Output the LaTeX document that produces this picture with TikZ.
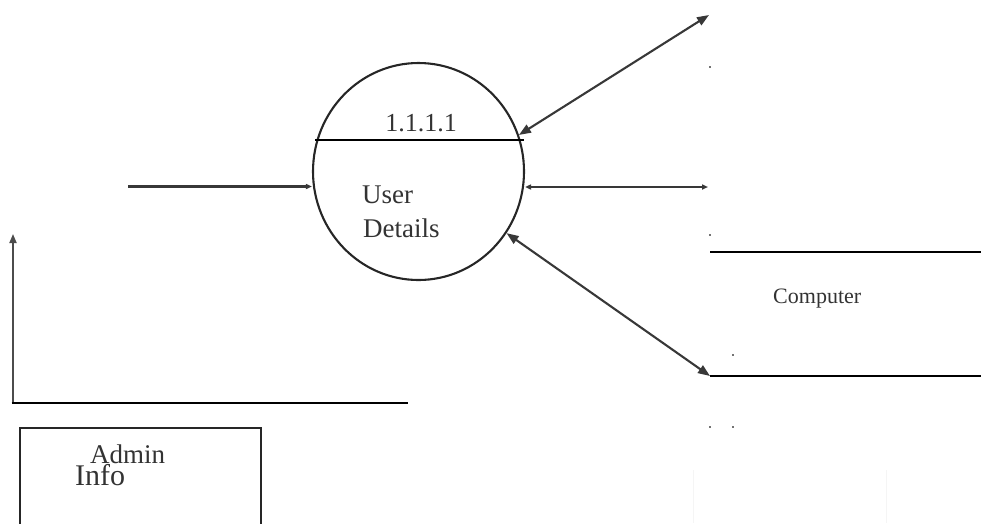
\documentclass[tikz,border=0pt]{standalone}
\usepackage{fontspec}
\setmainfont{Liberation Serif}
\usetikzlibrary{arrows.meta,shapes.geometric}
\tikzset{
  flow/.style={draw=black!78, line width=2.1pt},
  bigtips/.style={{Triangle[length=12pt,width=9pt]}-{Triangle[length=12pt,width=9pt]}},
  smalltips/.style={{Triangle[length=6pt,width=5pt]}-{Triangle[length=6pt,width=5pt]}},
  smalltip/.style={-{Triangle[length=6pt,width=5pt]}},
  storeline/.style={draw=black, line width=2.5pt},
  lbl/.style={anchor=base west, inner sep=0pt, text=black!80},
  speck/.style={fill=black!55, minimum size=2pt, inner sep=0pt}
}
\newcommand{\fsz}[1]{\fontsize{#1}{#1}\selectfont}
\begin{document}
\begin{tikzpicture}[x=1pt,y=-1pt]
  \useasboundingbox (0,0) rectangle (981,523);
  \clip (0,0) rectangle (981,523);

  % process bubble
  \node[ellipse, draw=black!85, line width=2.1pt, minimum width=211pt, minimum height=217pt, inner sep=0pt] (proc) at (418.5,171.5) {};
  \coordinate (chordL) at (315,140);
  \coordinate (chordR) at (524,140);
  \draw[black, line width=2.5pt] (chordL) -- (chordR);
  \node[anchor=base, inner sep=0pt, text=black!80] (pid) at (421,131) {\fsz{26}1.1.1.1};
  \node[lbl] (pname1) at (362,203) {\fsz{27}User};
  \node[lbl] (pname2) at (363,237) {\fsz{27}Details};

  % free ends of the flows
  \coordinate (inL) at (128,186.5);
  \coordinate (outTR) at (709,15);
  \coordinate (outR) at (708,187);
  \coordinate (outBR) at (710,376);

  \draw[flow, smalltip] (inL) -- (inL -| proc.west);
  \draw[flow, bigtips] (proc.20) -- (outTR);
  \draw[flow, smalltips] (outR -| proc.east) -- (outR);
  \draw[flow, bigtips] (proc.-35) -- (outBR);

  % data store
  \coordinate (st1a) at (710,252);
  \coordinate (st1b) at (981,252);
  \coordinate (st2a) at (710,376);
  \coordinate (st2b) at (981,376);
  \draw[storeline] (st1a) -- (st1b);
  \draw[storeline] (st2a) -- (st2b);
  \node[lbl] (store) at (773,303) {\fsz{22}Computer};

  % left vertical flow and rule
  \coordinate (vb) at (13,403);
  \coordinate (vt) at (13,234);
  \coordinate (hr) at (408,403);
  \draw[draw=black!70, line width=1.8pt, -{Triangle[length=9pt,width=7pt]}] (vb) -- (vt);
  \draw[storeline, line width=2.3pt] (11.5,403) -- (hr);

  % entity box
  \draw[draw=black!85, line width=2pt] (20,530) -- (20,428) -- (261,428) -- (261,530);
  \node[lbl] (ent1) at (90,463) {\fsz{27}Admin};
  \node[lbl] (ent2) at (75,485) {\fsz{30}Info};

  % faint outline at lower right
  \draw[black!4, line width=1pt] (693,470) -- (693,523);
  \draw[black!4, line width=1pt] (886,470) -- (886,523);

  % stray specks
  \node[speck] at (710,67) {};
  \node[speck] at (710,235) {};
  \node[speck] at (733,355) {};
  \node[speck] at (710,427) {};
  \node[speck] at (733,427) {};
\end{tikzpicture}
\end{document}
